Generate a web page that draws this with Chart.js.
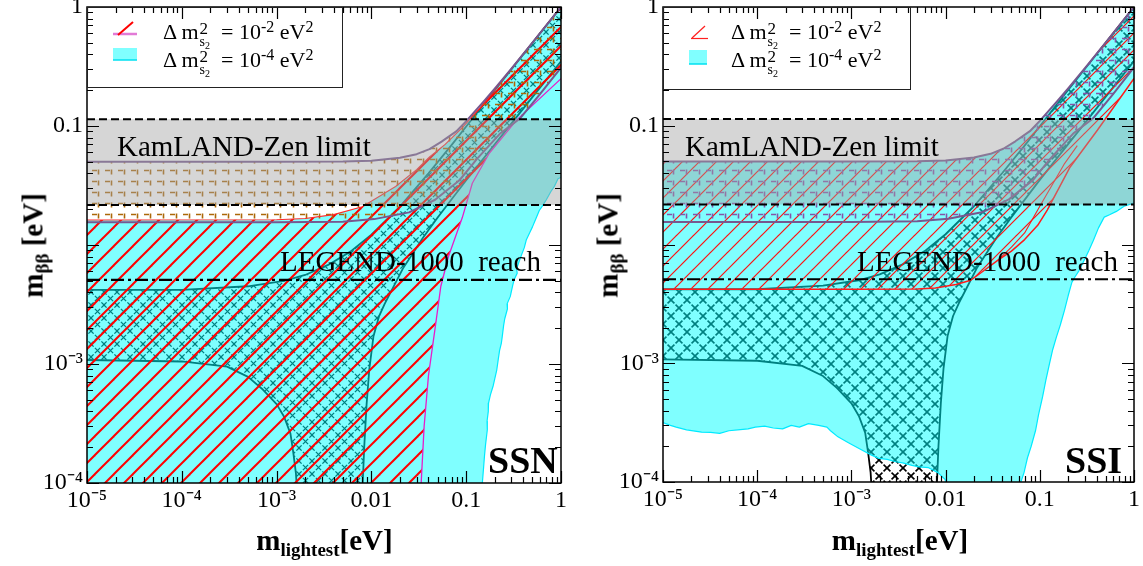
<!DOCTYPE html>
<html>
<head>
<meta charset="utf-8">
<script src="https://cdn.jsdelivr.net/npm/chart.js@4.4.1/dist/chart.umd.min.js"></script>
<style>
html,body{margin:0;padding:0;background:#fff;width:1143px;height:566px;overflow:hidden;position:relative;font-family:'Liberation Serif','Times New Roman',serif;color:#000}
canvas.cv{position:absolute;top:-20px}
.t{position:absolute;white-space:nowrap;line-height:1;font-family:'Liberation Serif',serif}
.b{font-weight:bold}
.lgbox{position:absolute;border:1px solid #222;box-sizing:border-box}
.lt{position:absolute;font-size:22px;line-height:22px;white-space:nowrap;font-family:'Liberation Serif',serif}
.ss{display:inline-block;position:relative;width:17px;height:22px;vertical-align:top}
.ss .u{position:absolute;left:1px;top:-1px;font-size:17px;line-height:17px}
.ss .d{position:absolute;left:1px;top:14px;font-size:14px;line-height:14px}
.ss .dd{font-size:10px;position:relative;top:3px}
.su{font-size:16px;position:relative;top:-7px}
.xt{position:absolute;top:526px;width:300px;text-align:center;font-weight:bold;font-size:29px;line-height:29px;white-space:nowrap;font-family:'Liberation Serif',serif}
.xs{font-size:19px;position:relative;top:6px}
.yt{position:absolute;top:230.5px;width:200px;height:29px;text-align:center;font-weight:bold;font-size:29px;line-height:29px;white-space:nowrap;transform:rotate(-90deg);transform-origin:50% 50%;font-family:'Liberation Serif',serif}
.ys{font-size:19px;position:relative;top:6px}
canvas.sw{position:absolute}
</style>
</head>
<body>
<canvas id="c1" class="cv" width="570" height="586" style="left:0px"></canvas>
<canvas id="c2" class="cv" width="568" height="586" style="left:575px"></canvas>

<!-- legends -->
<div class="lgbox" style="left:87px;top:7px;width:256px;height:81px"></div>
<canvas id="sw1" class="sw" width="30" height="50" style="left:110px;top:17px"></canvas>
<div class="lt" style="left:163px;top:21px">Δ m<span class="ss"><span class="u">2</span><span class="d">s<span class="dd">2</span></span></span> = 10<span class="su">-2</span> eV<span class="su">2</span></div>
<div class="lt" style="left:163px;top:49px">Δ m<span class="ss"><span class="u">2</span><span class="d">s<span class="dd">2</span></span></span> = 10<span class="su">-4</span> eV<span class="su">2</span></div>

<div class="lgbox" style="left:663px;top:7px;width:248px;height:83px"></div>
<canvas id="sw2" class="sw" width="30" height="50" style="left:684px;top:19px"></canvas>
<div class="lt" style="left:731px;top:21px">Δ m<span class="ss"><span class="u">2</span><span class="d">s<span class="dd">2</span></span></span> = 10<span class="su">-2</span> eV<span class="su">2</span></div>
<div class="lt" style="left:731px;top:49px">Δ m<span class="ss"><span class="u">2</span><span class="d">s<span class="dd">2</span></span></span> = 10<span class="su">-4</span> eV<span class="su">2</span></div>

<!-- annotations -->
<div class="t" style="left:117px;top:131.5px;font-size:29px">KamLAND-Zen limit</div>
<div class="t" style="left:685px;top:131.5px;font-size:29px">KamLAND-Zen limit</div>
<div class="t" style="left:280px;top:247px;font-size:29px">LEGEND-1000&nbsp; reach</div>
<div class="t" style="left:857px;top:247px;font-size:29px">LEGEND-1000&nbsp; reach</div>
<div class="t b" style="left:488px;top:441px;font-size:38px">SSN</div>
<div class="t b" style="left:1065px;top:441px;font-size:38px">SSI</div>

<!-- axis titles -->
<div class="xt" style="left:174.5px">m<span class="xs">lightest</span>[eV]</div>
<div class="xt" style="left:750px">m<span class="xs">lightest</span>[eV]</div>
<div class="yt" style="left:-67px">m<span class="ys">ββ</span> [eV]</div>
<div class="yt" style="left:508px">m<span class="ys">ββ</span> [eV]</div>

<script>
// ---------------- axis ticks ----------------
const xMin = 1e-5, xMax = 1, yMin = 1e-4, yMax = 1;
const xTickValues = [1e-5, 1e-4, 1e-3, 1e-2, 1e-1, 1];
const xTickLabels = ['10⁻⁵', '10⁻⁴', '10⁻³', '0.01', '0.1', '1'];
const yTickValues = [1e-4, 1e-3, 1e-2, 1e-1, 1];
const yTickLabels = ['10⁻⁴', '10⁻³', '', '0.1', '1'];

// ---------------- experimental lines ----------------
const kamlandTop = 0.114;
const kamlandBottom = 0.0217;
const legendReach = 0.0051;

// ---------------- standard IO band [m_lightest, m_bb] ----------------
const ioUpper = [[1e-5,0.05],[0.001,0.05],[0.005,0.0502],[0.01,0.051],[0.02,0.054],[0.03,0.058],[0.041,0.064],[0.055,0.074],[0.0785,0.09],[0.1,0.11],[0.15,0.158],[0.2,0.206],[0.3,0.304],[0.5,0.502],[1,1]];
const ioLower = [[1e-5,0.0155],[0.001,0.0155],[0.005,0.0157],[0.0107,0.0165],[0.025,0.0188],[0.047,0.024],[0.085,0.035],[0.13,0.053],[0.23,0.087],[0.37,0.116],[0.6,0.185],[1,0.31]];

// ---------------- standard NO band ----------------
const noUpper = [[1e-5,0.0042],[1e-4,0.0042],[5e-4,0.0045],[0.0012,0.005],[0.002,0.0056],[0.0035,0.0068],[0.006,0.0088],[0.01,0.0122],[0.02,0.021],[0.04,0.04],[0.07,0.069],[0.1,0.099],[0.2,0.2],[0.5,0.5],[1,1]];
const noLowerLeft = [[1e-5,0.00108],[1e-4,0.00105],[3e-4,0.00095],[5e-4,0.00078],[7e-4,0.00062],[0.001,0.00046],[0.0012,0.00036],[0.0014,0.00026],[0.0015,0.00018],[0.0016,0.00012],[0.00165,0.00008]];
const noLowerRight = [[0.0080,0.00008],[0.0081,0.0001],[0.0084,0.0002],[0.0089,0.00046],[0.0095,0.0009],[0.0105,0.0017],[0.012,0.0025],[0.0138,0.0032],[0.0214,0.0063],[0.035,0.0115],[0.05,0.017],[0.1,0.035],[0.2,0.07],[0.4,0.14],[1,0.35]];

// ---------------- SSN panel ----------------
const ssnTop = [[1e-5,0.0162],[0.001,0.0163],[0.002,0.0167],[0.004,0.018],[0.008,0.021],[0.018,0.031],[0.03,0.043],[0.041,0.055],[0.06,0.07],[0.091,0.097],[0.16,0.16],[0.3,0.3],[1,1]];
const ssnRedEdge = [[0.033,0.00008],[0.0335,0.0001],[0.036,0.0003],[0.04,0.0008],[0.047,0.002],[0.054,0.0045],[0.065,0.008],[0.091,0.017],[0.116,0.033],[0.175,0.059],[0.34,0.112],[1,0.25]];
const ssnCyanEdge = [[1,0.037],[0.93,0.036],[0.85,0.031],[0.78,0.028],[0.7,0.024],[0.63,0.021],[0.59,0.0195],[0.55,0.017],[0.5,0.0142],[0.47,0.0128],[0.43,0.011],[0.41,0.0095],[0.38,0.0081],[0.36,0.0072],[0.34,0.0063],[0.345,0.0058],[0.32,0.0051],[0.31,0.0046],[0.3,0.0041],[0.292,0.0037],[0.27,0.0032],[0.272,0.0029],[0.255,0.0024],[0.248,0.0021],[0.24,0.0017],[0.235,0.0015],[0.225,0.0013],[0.218,0.0011],[0.21,0.00089],[0.2,0.00075],[0.193,0.00066],[0.18,0.00055],[0.172,0.00047],[0.171,0.0004],[0.166,0.00033],[0.167,0.00028],[0.16,0.00021],[0.156,0.00017],[0.152,0.00013],[0.148,0.0001],[0.147,0.00008]];

// ---------------- SSI panel ----------------
const ssiRedLower = [[1e-5,0.0042],[0.001,0.0042],[0.005,0.00422],[0.0078,0.0043],[0.0129,0.0046],[0.0185,0.005],[0.026,0.0061],[0.036,0.0074],[0.05,0.0088],[0.069,0.011],[0.095,0.0145],[0.12,0.0195],[0.21,0.045],[0.41,0.092],[1,0.25]];
const ssiRedInner = [[0.036,0.0074],[0.05,0.0095],[0.069,0.0125],[0.1,0.021],[0.13,0.03],[0.18,0.047],[0.25,0.068]];
const ssiCyanRight = [[1,0.0224],[0.9,0.0218],[0.785,0.021],[0.65,0.019],[0.55,0.0178],[0.483,0.017],[0.42,0.0138],[0.37,0.0108],[0.33,0.0088],[0.297,0.0074],[0.26,0.006],[0.235,0.0053],[0.219,0.0048],[0.2,0.0037],[0.183,0.0028],[0.165,0.0021],[0.15,0.00166],[0.137,0.0013],[0.127,0.001],[0.116,0.00072],[0.107,0.00052],[0.097,0.00037],[0.09,0.00027],[0.081,0.0002],[0.074,0.00016],[0.068,0.00012],[0.063,0.0001],[0.061,0.00008]];
const ssiCyanBottom = [[0.0102,0.00008],[0.0099,0.000105],[0.0083,0.00012],[0.0066,0.000132],[0.0052,0.000134],[0.0044,0.000138],[0.0035,0.000145],[0.00295,0.000148],[0.0024,0.000155],[0.00195,0.000158],[0.0016,0.00017],[0.00129,0.000186],[0.00093,0.000214],[0.00072,0.00024],[0.0006,0.00027],[0.00055,0.00029],[0.00045,0.0003],[0.00035,0.00031],[0.00028,0.00029],[0.00023,0.0003],[0.000186,0.00028],[0.000148,0.000285],[0.00012,0.000295],[0.0000955,0.00029],[0.00008,0.00028],[0.000062,0.000275],[0.00005,0.00027],[0.00004,0.000257],[0.000032,0.000262],[0.0000257,0.000263],[0.0000178,0.000275],[0.0000138,0.00029],[0.000012,0.0003],[1e-5,0.000316]];

// ---------------- helpers ----------------
const pts = arr => arr.map(([x, y]) => ({x, y}));
const rev = arr => arr.slice().reverse();
function area(data, bg, order) {
  return {data: pts(data), backgroundColor: bg, borderColor: 'rgba(0,0,0,0)', borderWidth: 0, fill: 'shape', pointRadius: 0, order, tension: 0};
}
function curve(data, color, width, order, dash) {
  return {data: pts(data), borderColor: color, borderWidth: width, fill: false, pointRadius: 0, order, tension: 0, borderDash: dash || [], borderJoinStyle: 'round'};
}
function tileCanvas(w, h, draw) {
  const c = document.createElement('canvas'); c.width = w; c.height = h;
  draw(c.getContext('2d'), w, h); return c;
}
function hatchPattern(ctx, s, color, lw) {
  return ctx.createPattern(tileCanvas(s, s, g => {
    g.strokeStyle = color; g.lineWidth = lw;
    for (let k = 0; k <= 2; k++) { g.beginPath(); g.moveTo(-s, k * s + s); g.lineTo(2 * s, k * s - 2 * s); g.stroke(); }
  }), 'repeat');
}
function crossPattern(ctx, s, color, lw, frac) {
  return ctx.createPattern(tileCanvas(s, s, g => {
    g.strokeStyle = color; g.lineWidth = lw;
    const h = s / 2, arm = frac * h;
    for (let i = -1; i <= 3; i++) for (let j = -1; j <= 3; j++) {
      if (Math.abs(i + j) % 2 !== 0) continue;
      const cx = i * h, cy = j * h;
      g.beginPath();
      g.moveTo(cx - arm, cy - arm); g.lineTo(cx + arm, cy + arm);
      g.moveTo(cx - arm, cy + arm); g.lineTo(cx + arm, cy - arm);
      g.stroke();
    }
  }), 'repeat');
}
function ioPattern(ctx, color) {
  return ctx.createPattern(tileCanvas(13, 11, g => {
    g.strokeStyle = color; g.lineWidth = 1.6;
    g.beginPath(); g.moveTo(1, 3.5); g.lineTo(6, 3.5); g.moveTo(7.5, 2.5); g.lineTo(7.5, 7.5); g.stroke();
  }), 'repeat');
}

const framePlugin = {
  id: 'frame',
  afterDatasetsDraw(chart) {
    const {ctx, chartArea: a, scales: {x, y}} = chart;
    ctx.save();
    ctx.strokeStyle = '#000'; ctx.lineWidth = 1.2; ctx.setLineDash([]);
    ctx.beginPath();
    for (let e = -5; e <= 0; e++) for (let k = 1; k <= 9; k++) {
      const v = k * Math.pow(10, e); if (v > 1.000001) break;
      const p = Math.round(x.getPixelForValue(v)) + 0.5; const L = k === 1 ? 12 : 6;
      ctx.moveTo(p, a.bottom); ctx.lineTo(p, a.bottom - L);
      ctx.moveTo(p, a.top); ctx.lineTo(p, a.top + L);
    }
    for (let e = -4; e <= 0; e++) for (let k = 1; k <= 9; k++) {
      const v = k * Math.pow(10, e); if (v > 1.000001) break;
      const p = Math.round(y.getPixelForValue(v)) + 0.5; const L = k === 1 ? 12 : 6;
      ctx.moveTo(a.left, p); ctx.lineTo(a.left + L, p);
      ctx.moveTo(a.right, p); ctx.lineTo(a.right - L, p);
    }
    ctx.stroke();
    ctx.lineWidth = 1.5;
    ctx.strokeRect(a.left, a.top, a.right - a.left, a.bottom - a.top);
    ctx.restore();
  }
};

function makeChart(canvas, datasets, yWidth, xHeight, padRight) {
  const font = {family: "'Liberation Serif', 'Times New Roman', serif", size: 24};
  return new Chart(canvas, {
    type: 'line',
    data: {datasets},
    options: {
      responsive: false, animation: false, events: [],
      layout: {padding: {top: 27, right: padRight, left: 0, bottom: 0}},
      plugins: {legend: {display: false}, tooltip: {enabled: false}, title: {display: false}},
      scales: {
        x: {
          type: 'logarithmic', min: xMin, max: xMax,
          grid: {display: false, drawTicks: false}, border: {display: false},
          afterBuildTicks: s => { s.ticks = xTickValues.map(v => ({value: v})); },
          afterFit: s => { s.height = xHeight; },
          ticks: {autoSkip: false, maxRotation: 0, padding: 3, color: '#000', font, callback: (v, i) => xTickLabels[i]}
        },
        y: {
          type: 'logarithmic', min: yMin, max: yMax,
          grid: {display: false, drawTicks: false}, border: {display: false},
          afterBuildTicks: s => { s.ticks = yTickValues.map(v => ({value: v})); },
          afterFit: s => { s.width = yWidth; },
          ticks: {autoSkip: false, padding: 4, color: '#000', font, callback: (v, i) => yTickLabels[i]}
        }
      }
    },
    plugins: [framePlugin]
  });
}

const cyanFill = 'rgba(0,255,255,0.5)';
const grayFill = 'rgba(161,161,161,0.44)';
const purple = '#76588f';
const bandPoly = [[xMin, kamlandTop], [xMax, kamlandTop], [xMax, kamlandBottom], [xMin, kamlandBottom]];
const noPoly = noUpper.concat(rev(noLowerRight), rev(noLowerLeft));
const ioPoly = ioUpper.concat(rev(ioLower));

// ---------------- left: SSN ----------------
const c1 = document.getElementById('c1');
const g1 = c1.getContext('2d');
makeChart(c1, [
  area(noPoly, crossPattern(g1, 13, '#000', 1.3, 0.4), 100),
  curve(noUpper, '#000', 1.8, 95), curve(noLowerLeft, '#000', 1.8, 95), curve(noLowerRight, '#000', 1.8, 95),
  area(ssnTop.concat(ssnCyanEdge, [[xMin, 0.00008]]), cyanFill, 90),
  curve(ssnCyanEdge, '#00eaff', 1.2, 85),
  area(ssnTop.concat(rev(ssnRedEdge), [[xMin, 0.00008]]), hatchPattern(g1, 19, '#ff0000', 2), 80),
  area(ioPoly, ioPattern(g1, 'rgb(172,104,8)'), 70),
  curve(ssnTop, '#ff2a2a', 1.1, 62),
  curve(ssnRedEdge, '#e81cc8', 1.3, 62),
  curve(ioUpper, purple, 2, 60), curve(ioLower, purple, 2, 60),
  area(bandPoly, grayFill, 50),
  curve([[xMin, kamlandTop], [xMax, kamlandTop]], '#000', 2, 40, [8, 4]),
  curve([[xMin, kamlandBottom], [xMax, kamlandBottom]], '#000', 2, 40, [8, 4]),
  curve([[xMin, legendReach], [xMax, legendReach]], '#000', 2.2, 40, [13, 4, 3, 4])
], 87, 83, 8);

// ---------------- right: SSI ----------------
const c2 = document.getElementById('c2');
const g2 = c2.getContext('2d');
makeChart(c2, [
  area(noPoly, crossPattern(g2, 16, '#000', 1.6, 0.43), 100),
  curve(noUpper, '#000', 1.8, 95), curve(noLowerLeft, '#000', 1.8, 95), curve(noLowerRight, '#000', 1.8, 95),
  area(ioUpper.concat(ssiCyanRight, ssiCyanBottom), cyanFill, 90),
  curve(ssiCyanRight, '#00eaff', 1.2, 85), curve(ssiCyanBottom, '#00eaff', 1.2, 85),
  area(ioUpper.concat(rev(ssiRedLower)), hatchPattern(g2, 17, '#ff1010', 1.2), 80),
  area(ioPoly, ioPattern(g2, 'rgb(132,84,168)'), 70),
  curve(ssiRedLower, '#ff1a1a', 1.5, 62),
  curve(ssiRedInner, '#ff1a1a', 1.1, 62),
  curve(ioUpper, purple, 2, 60), curve(ioLower, purple, 2, 60),
  area(bandPoly, grayFill, 50),
  curve([[xMin, kamlandTop], [xMax, kamlandTop]], '#000', 2, 40, [8, 4]),
  curve([[xMin, kamlandBottom], [xMax, kamlandBottom]], '#000', 2, 40, [8, 4]),
  curve([[xMin, legendReach], [xMax, legendReach]], '#000', 2.2, 40, [13, 4, 3, 4])
], 88, 84, 6);

// ---------------- legend swatches ----------------
(function () {
  const a = document.getElementById('sw1').getContext('2d');
  a.strokeStyle = '#e27ad6'; a.lineWidth = 2.5;
  a.beginPath(); a.moveTo(3, 17); a.lineTo(27, 17); a.stroke();
  a.strokeStyle = '#ff0000'; a.lineWidth = 2;
  a.beginPath(); a.moveTo(8, 18); a.lineTo(23, 5); a.stroke();
  a.fillStyle = 'rgb(128,255,255)'; a.fillRect(3, 31, 24, 12);
  a.strokeStyle = '#00e0f0'; a.lineWidth = 1.5;
  a.beginPath(); a.moveTo(3, 43); a.lineTo(27, 43); a.stroke();

  const b = document.getElementById('sw2').getContext('2d');
  b.strokeStyle = '#ff2020'; b.lineWidth = 1.2;
  b.beginPath(); b.moveTo(7, 19.5); b.lineTo(24, 19.5); b.stroke();
  b.beginPath(); b.moveTo(8, 19); b.lineTo(21, 7); b.stroke();
  b.fillStyle = 'rgb(128,255,255)'; b.fillRect(5, 31, 18, 14);
  b.strokeStyle = '#00e0f0'; b.lineWidth = 1.5;
  b.beginPath(); b.moveTo(5, 45); b.lineTo(23, 45); b.stroke();
})();
</script>
</body>
</html>
